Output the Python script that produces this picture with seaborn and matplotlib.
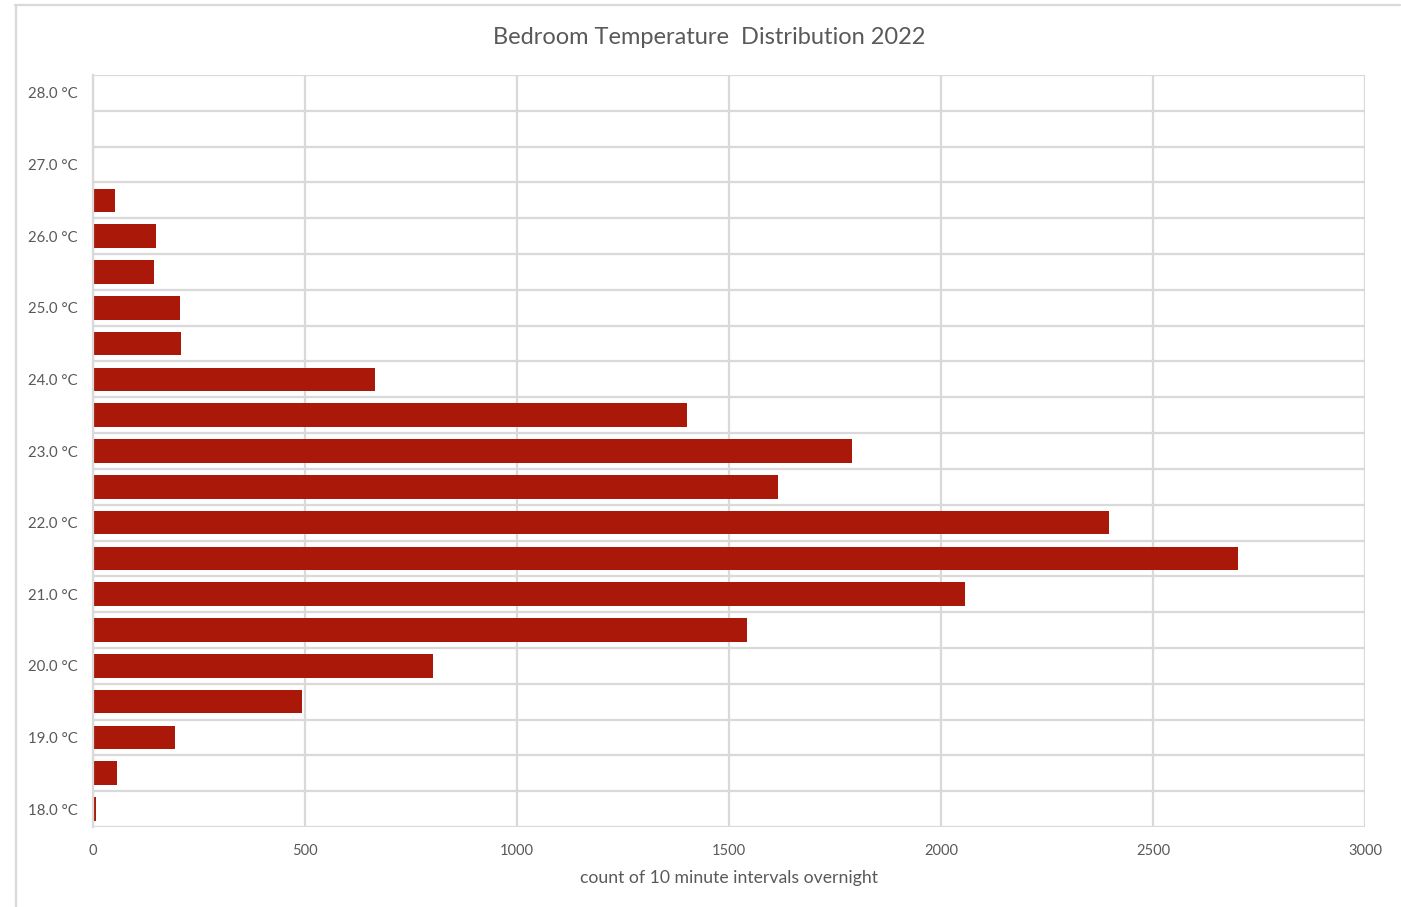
import matplotlib
matplotlib.use("Agg")
import matplotlib.pyplot as plt
from matplotlib.lines import Line2D
import seaborn as sns
import pandas as pd

# Temperature bins (°C) and the number of 10-minute overnight readings in each
temps = [18.0, 18.5, 19.0, 19.5, 20.0, 20.5, 21.0, 21.5, 22.0, 22.5, 23.0,
         23.5, 24.0, 24.5, 25.0, 25.5, 26.0, 26.5, 27.0, 27.5, 28.0]
counts = [7, 57, 193, 493, 802, 1542, 2057, 2700, 2396, 1616, 1790,
          1401, 665, 208, 205, 144, 149, 52, 0, 0, 0]
x_ticks = [0, 500, 1000, 1500, 2000, 2500, 3000]

title = "Bedroom Temperature  Distribution 2022"
x_label = "count of 10 minute intervals overnight"

sns.set_theme(style="white")
plt.rcParams["font.family"] = ["Lato", "DejaVu Sans"]

text_color = "#595959"
grid_color = "#d9d9d9"
bar_color = "#AA180A"

df = pd.DataFrame({"temp": [f"{t:.1f}" for t in temps], "count": counts})
order = [f"{t:.1f}" for t in reversed(temps)]

fig = plt.figure(figsize=(14.01, 9.07), dpi=100)
ax = fig.add_axes([93 / 1401, 1 - 827 / 907, (1365 - 93) / 1401, (827 - 75) / 907])

sns.barplot(data=df, x="count", y="temp", order=order, orient="h",
            color=bar_color, saturation=1, width=0.66, ax=ax,
            edgecolor="none", zorder=3)

ax.set_xlim(0, 3000)
ax.set_ylim(len(order) - 0.5, -0.5)

# row boundaries as horizontal grid lines
ax.set_yticks([i - 0.5 for i in range(len(order) + 1)], minor=True)
ax.set_yticks(range(len(order)))
ax.set_yticklabels([f"{float(o):.1f} °C" if float(o).is_integer() else "" for o in order])
ax.set_xticks(x_ticks)
ax.set_xticklabels([str(v) for v in x_ticks])

ax.grid(False)
ax.xaxis.grid(True, color=grid_color, linewidth=1.6, zorder=0)
ax.yaxis.grid(True, which="minor", color=grid_color, linewidth=1.6, zorder=0)
ax.set_axisbelow(True)
for side in ["top", "right", "bottom"]:
    ax.spines[side].set_visible(False)
ax.spines["left"].set_color(grid_color)
ax.spines["left"].set_linewidth(1.6)
ax.spines["left"].set_zorder(4)

ax.tick_params(axis="both", which="both", length=0, labelcolor=text_color)
ax.tick_params(axis="y", pad=11, labelsize=10.8)
ax.tick_params(axis="x", pad=12, labelsize=10.5)

ax.set_ylabel("")
ax.set_xlabel(x_label, fontsize=12.7, color=text_color, labelpad=9)

fig.text(709 / 1401, 1 - 38 / 907, title, ha="center", va="center",
         fontsize=17, color=text_color)

# chart-area border
fig.add_artist(Line2D([15 / 1401, 1400 / 1401], [1 - 5 / 907, 1 - 5 / 907],
                      color=grid_color, linewidth=1.6, transform=fig.transFigure))
fig.add_artist(Line2D([16 / 1401, 16 / 1401], [0, 1 - 5 / 907],
                      color=grid_color, linewidth=1.6, transform=fig.transFigure))

fig.savefig("out.png", dpi=100, facecolor="white")
